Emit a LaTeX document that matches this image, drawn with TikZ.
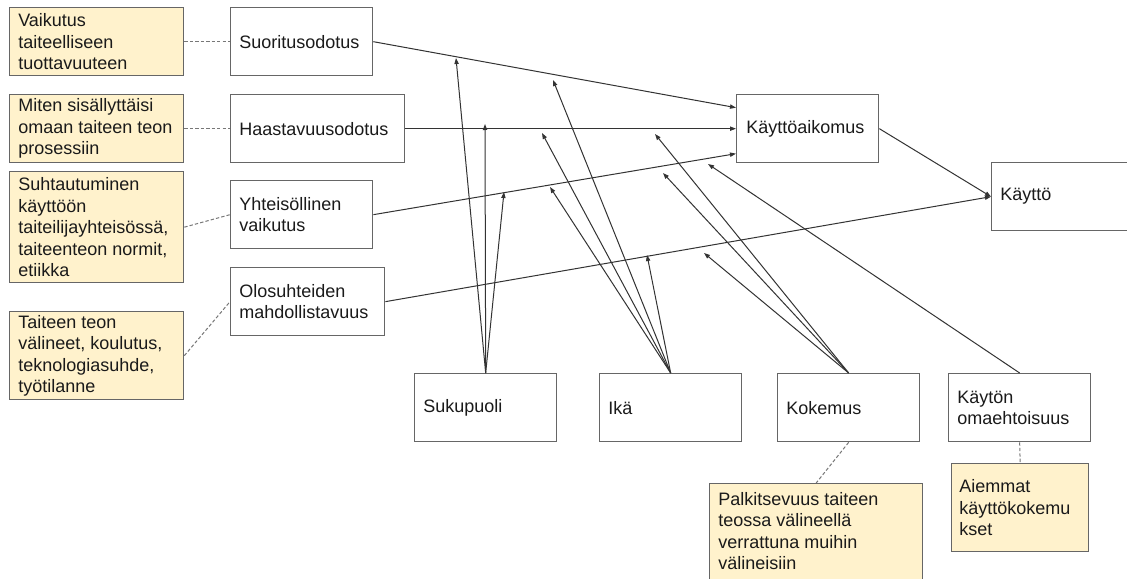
\documentclass[tikz,border=0pt]{standalone}
\usepackage{fontspec}
\setmainfont{Liberation Sans}
\usetikzlibrary{arrows.meta,calc}

\definecolor{notefill}{HTML}{FFF2CC}
\definecolor{bordercol}{HTML}{666666}
\definecolor{linecol}{HTML}{333333}
\definecolor{dashcol}{HTML}{777777}
\definecolor{textcol}{HTML}{1A1A1A}

\tikzset{
  boxbase/.style={draw=bordercol, line width=1pt, rectangle, inner sep=0pt, anchor=north west},
  plainbox/.style={boxbase, fill=white},
  notebox/.style={boxbase, fill=notefill},
  txt/.style={anchor=west, align=left, inner sep=0pt, text=textcol,
              font=\fontsize{13.5pt}{16.1pt}\selectfont},
  link/.style={draw=linecol, line width=0.75pt, -{Triangle[length=4.5pt,width=3.2pt]}},
  tie/.style={draw=dashcol, line width=0.75pt, dash pattern=on 2.5pt off 1.6pt},
}

\begin{document}
\begin{tikzpicture}[x=0.75pt, y=-0.75pt]
\useasboundingbox (0,0) rectangle (1127,578);
\clip (0,0) rectangle (1127,578);
\fill[white] (0,0) rectangle (1127,578);

% left column: notes
\node[notebox, minimum width=130.5pt, minimum height=51pt] (n1) at (9,7) {};
\node[notebox, minimum width=130.5pt, minimum height=51pt] (n2) at (9,94) {};
\node[notebox, minimum width=130.5pt, minimum height=83.25pt] (n3) at (9,171) {};
\node[notebox, minimum width=130.5pt, minimum height=66pt] (n4) at (9,311) {};
\node[txt] (n1t) at ($(n1.west)+(9,0)$) {Vaikutus\\taiteelliseen\\tuottavuuteen};
\node[txt] (n2t) at ($(n2.west)+(9,0)$) {Miten sisällyttäisi\\omaan taiteen teon\\prosessiin};
\node[txt] (n3t) at ($(n3.west)+(9,0)$) {Suhtautuminen\\käyttöön\\taiteilijayhteisössä,\\taiteenteon normit,\\etiikka};
\node[txt] (n4t) at ($(n4.west)+(9,0)$) {Taiteen teon\\välineet, koulutus,\\teknologiasuhde,\\työtilanne};

% predictors
\node[plainbox, minimum width=106.5pt, minimum height=51pt] (suo) at (230,7) {};
\node[plainbox, minimum width=130.5pt, minimum height=51pt] (haa) at (230,94) {};
\node[plainbox, minimum width=106.5pt, minimum height=51pt] (yht) at (230,180) {};
\node[plainbox, minimum width=115.5pt, minimum height=51pt] (olo) at (230,267) {};
\node[txt] (suot) at ($(suo.west)+(9,0)$) {Suoritusodotus};
\node[txt] (haat) at ($(haa.west)+(9,0)$) {Haastavuusodotus};
\node[txt] (yhtt) at ($(yht.west)+(9,0)$) {Yhteisöllinen\\vaikutus};
\node[txt] (olot) at ($(olo.west)+(9,0)$) {Olosuhteiden\\mahdollistavuus};

% intention and use
\node[plainbox, minimum width=106.5pt, minimum height=51pt] (ka) at (736,94) {};
\node[plainbox, minimum width=112.5pt, minimum height=51pt] (k) at (991,162) {};
\node[txt] (kat) at ($(ka.west)+(10,0)$) {Käyttöaikomus};
\node[txt] (kt) at ($(k.west)+(9,0)$) {Käyttö};

% moderators
\node[plainbox, minimum width=106.5pt, minimum height=51pt] (suk) at (414,373) {};
\node[plainbox, minimum width=106.5pt, minimum height=51pt] (ika) at (599,373) {};
\node[plainbox, minimum width=106.5pt, minimum height=51pt] (kok) at (777,373) {};
\node[plainbox, minimum width=106.5pt, minimum height=51pt] (kay) at (948,373) {};
\node[txt] (sukt) at ($(suk.west)+(9,0)$) {Sukupuoli};
\node[txt] (ikat) at ($(ika.west)+(9,0)$) {Ikä};
\node[txt] (kokt) at ($(kok.west)+(9,0)$) {Kokemus};
\node[txt] (kayt) at ($(kay.west)+(9,0)$) {Käytön\\omaehtoisuus};

% notes under moderators
\node[notebox, minimum width=159.75pt, minimum height=78.75pt] (n5) at (709,483) {};
\node[notebox, minimum width=102.75pt, minimum height=66pt] (n6) at (951,463) {};
\node[txt, anchor=north west] (n5t) at ($(n5.north west)+(9,9)$) {Palkitsevuus taiteen\\teossa välineellä\\verrattuna muihin\\välineisiin};
\node[txt] (n6t) at ($(n6.west)+(8,0)$) {Aiemmat\\käyttökokemu\\kset};

% dashed ties
\draw[tie] (n1.east) -- (suo.west);
\draw[tie] (n2.east) -- (haa.west);
\draw[tie] (n3.east) -- (yht.west);
\draw[tie] (n4.east) -- (olo.west);
\draw[tie] (kok.south) -- (n5.north);
\draw[tie] (kay.south) -- (n6.north);

% main paths
\draw[link] (suo.east) -- ($(ka.west)+(0,-21)$);
\draw[link] (haa.east) -- (ka.west);
\draw[link] (yht.east) -- ($(ka.west)+(0,25)$);
\draw[link] (olo.east) -- (k.west);
\draw[link] (ka.east) -- (k.west);

% moderator targets
\coordinate (s1) at (456,58);
\coordinate (s2) at (485,124);
\coordinate (s3) at (504,192);
\coordinate (i1) at (553,80);
\coordinate (i2) at (542,133);
\coordinate (i3) at (550,187);
\coordinate (i4) at (647,255);
\coordinate (k1) at (655,134);
\coordinate (k2) at (663,173);
\coordinate (k3) at (704,253);
\coordinate (o1) at (708,164);

\foreach \t in {s1,s2,s3} \draw[link] (suk.north) -- (\t);
\foreach \t in {i1,i2,i3,i4} \draw[link] (ika.north) -- (\t);
\foreach \t in {k1,k2,k3} \draw[link] (kok.north) -- (\t);
\draw[link] (kay.north) -- (o1);
\end{tikzpicture}
\end{document}
